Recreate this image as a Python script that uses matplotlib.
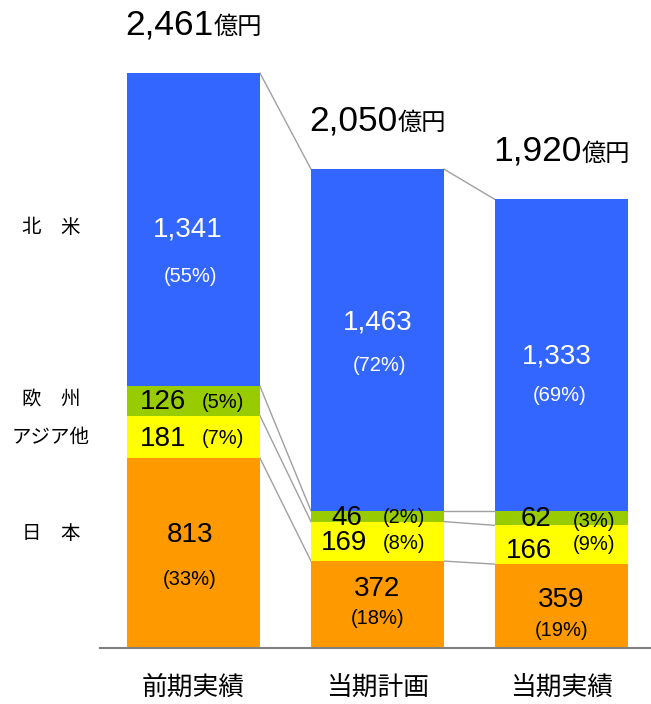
import matplotlib
matplotlib.use("Agg")
import matplotlib.pyplot as plt
from matplotlib.transforms import offset_copy, blended_transform_factory

plt.rcParams['font.family'] = ['Liberation Sans', 'Noto Sans CJK JP', 'DejaVu Sans']

# ---- data ----
categories = ["前期実績", "当期計画", "当期実績"]
regions = ["日　本", "アジア他", "欧　州", "北　米"]          # bottom -> top
japan = [813, 372, 359]
asia = [181, 169, 166]
europe = [126, 46, 62]
namerica = [1341, 1463, 1333]
pct_japan = [33, 18, 19]
pct_asia = [7, 8, 9]
pct_europe = [5, 2, 3]
pct_namerica = [55, 72, 69]
totals = [2461, 2050, 1920]

series = [japan, asia, europe, namerica]
pcts = [pct_japan, pct_asia, pct_europe, pct_namerica]
colors = ["#FF9900", "#FFFF00", "#99CC00", "#3366FF"]
text_colors = ["black", "black", "black", "white"]

# label layout: offsets (px, image-down positive) from segment centre: (val dx, val dy, pct dx, pct dy)
layout = [
    [(-4, -20, -4, 24), (0, -18, 0, 12), (0, -8, 0, 22)],            # 日本
    [(-30, 0, 29, 0), (-33, 0, 26, 0), (-32, 4, 33, -2)],            # アジア他
    [(-30, -1, 29, -1), (-31, 0, 26, -1), (-25, -1, 33, 1)],         # 欧州
    [(-6, -2, -3, 45), (0, -19, 2, 24), (-5, -1, -2, 38)],           # 北米
]
text_shift = 2  # global downward nudge, px

W, H = 651, 704
fig = plt.figure(figsize=(W / 100, H / 100), dpi=100)
base_px = 648
ax = fig.add_axes([100 / W, (H - base_px) / H, 550 / W, base_px / H])
scale = 0.2336  # px per unit
ax.set_ylim(0, base_px / scale)
ax.set_xlim(-93.5 / 184, 456.5 / 184)
width = 133 / 184
x = list(range(len(categories)))

bottoms = [0] * len(categories)
levels = []
for s, col in zip(series, colors):
    ax.bar(x, s, width=width, bottom=bottoms, color=col, linewidth=0, zorder=2)
    bottoms = [b + v for b, v in zip(bottoms, s)]
    levels.append(list(bottoms))

# connecting lines between bars (top of each segment)
for lev in levels:
    for i in range(len(categories) - 1):
        ax.plot([x[i] + width / 2, x[i + 1] - width / 2], [lev[i], lev[i + 1]],
                color="#A0A0A0", lw=1.0, zorder=1)

# segment labels
cum = [0] * len(categories)
for k, (s, p) in enumerate(zip(series, pcts)):
    for i in range(len(categories)):
        c = cum[i] + s[i] / 2
        vdx, vdy, pdx, pdy = layout[k][i]
        t1 = offset_copy(ax.transData, fig=fig, x=vdx, y=-(vdy + text_shift), units='dots')
        ax.text(x[i], c, f"{s[i]:,}", transform=t1, ha='center', va='center',
                fontsize=20, color=text_colors[k], zorder=4)
        t2 = offset_copy(ax.transData, fig=fig, x=pdx, y=-(pdy + text_shift), units='dots')
        ax.text(x[i], c, f"({p[i]}%)", transform=t2, ha='center', va='center',
                fontsize=14.5, color=text_colors[k], zorder=4)
    cum = [a + b for a, b in zip(cum, s)]

# totals above bars
for i, t in enumerate(totals):
    tr = offset_copy(ax.transData, fig=fig, x=20, y=39, units='dots')
    ax.text(x[i], t, f"{t:,}", transform=tr, ha='right', va='baseline',
            fontsize=25.5, clip_on=False)
    ax.text(x[i], t, "億円", transform=tr, ha='left', va='baseline',
            fontsize=17.5, clip_on=False, family=['Noto Sans CJK JP'])

# region labels on the left (aligned with first bar's value labels)
cum0 = 0
for k, s in enumerate(series):
    c = cum0 + s[0] / 2
    vdy = layout[k][0][1]
    tr = offset_copy(blended_transform_factory(fig.transFigure, ax.transData),
                     fig=fig, x=0, y=-vdy, units='dots')
    ax.text(51 / W, c, regions[k], transform=tr, ha='center', va='center',
            fontsize=14, family=['Noto Sans CJK JP'], clip_on=False)
    cum0 += s[0]

# category labels
ax.set_xticks(x)
ax.set_xticklabels(categories, fontsize=18.5, family=['Noto Sans CJK JP'])
ax.tick_params(axis='x', length=0, pad=19)
ax.set_yticks([])
for sp in ['left', 'right', 'top']:
    ax.spines[sp].set_visible(False)
ax.spines['bottom'].set_color('#808080')
ax.spines['bottom'].set_linewidth(1.5)

fig.savefig("out.png", dpi=100)
